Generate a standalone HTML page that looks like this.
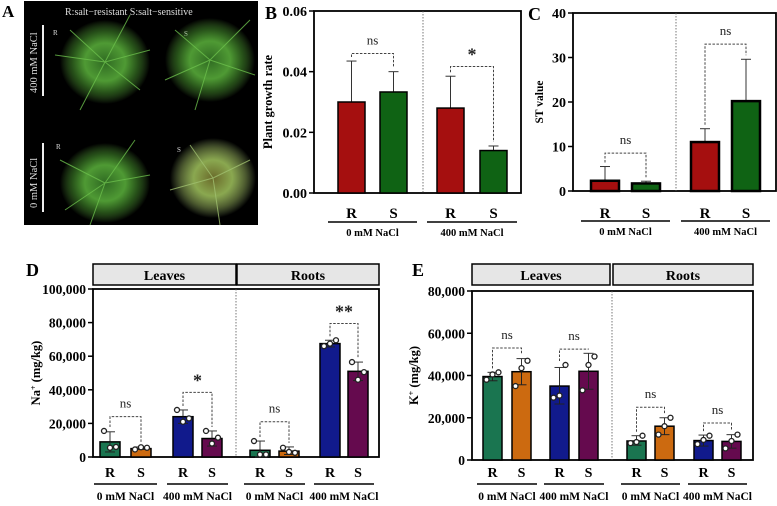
<!DOCTYPE html>
<html><head><meta charset="utf-8"><style>
html,body{margin:0;padding:0;background:#fff;}
svg{display:block;font-family:"Liberation Serif",serif;}
</style></head><body>
<svg id="fig" width="777" height="506" viewBox="0 0 777 506" xmlns="http://www.w3.org/2000/svg">
<defs>
<radialGradient id="plantG" cx="50%" cy="50%" r="50%"><stop offset="0" stop-color="#2f6a22"/><stop offset="0.45" stop-color="#4f9a34"/><stop offset="0.75" stop-color="#4a9a30" stop-opacity="0.5"/><stop offset="1" stop-color="#6cc04a" stop-opacity="0"/></radialGradient>
<radialGradient id="plantY" cx="50%" cy="50%" r="50%"><stop offset="0" stop-color="#6a6a2a"/><stop offset="0.45" stop-color="#8aa850"/><stop offset="0.75" stop-color="#9cb860" stop-opacity="0.5"/><stop offset="1" stop-color="#b0d080" stop-opacity="0"/></radialGradient>
</defs>
<g>
<text x="2" y="17" font-size="17" font-weight="bold">A</text>
<rect x="24" y="1" width="234" height="224" fill="#000"/>
<text x="65" y="15" font-size="10" fill="#ddd">R:salt−resistant   S:salt−sensitive</text>
<line x1="43" y1="25" x2="43" y2="96" stroke="#eee" stroke-width="2"/>
<line x1="43" y1="143" x2="43" y2="212" stroke="#eee" stroke-width="2"/>
<text transform="translate(37,93) rotate(-90)" font-size="10.5" fill="#ddd">400 mM NaCl</text>
<text transform="translate(37,208) rotate(-90)" font-size="10.5" fill="#ddd">0 mM NaCl</text>
<text x="53" y="35" font-size="7" fill="#ddd">R</text><text x="184" y="36" font-size="7" fill="#ddd">S</text>
<text x="56" y="149" font-size="7" fill="#ddd">R</text><text x="177" y="152" font-size="7" fill="#ddd">S</text>
<ellipse cx="105" cy="62" rx="45" ry="42" fill="url(#plantG)"/>
<ellipse cx="210" cy="60" rx="45" ry="42" fill="url(#plantG)"/>
<ellipse cx="105" cy="183" rx="45" ry="40" fill="url(#plantG)"/>
<ellipse cx="213" cy="178" rx="43" ry="40" fill="url(#plantY)"/>
<g stroke="#6cbf4c" stroke-width="1" opacity="0.8">
<path d="M105 62 L55 55 M105 62 L150 50 M105 62 L80 110 M105 62 L130 15 M105 62 L140 90 M105 62 L70 30"/>
<path d="M210 60 L165 80 M210 60 L250 20 M210 60 L255 75 M210 60 L195 110 M210 60 L175 30"/>
<path d="M105 183 L60 160 M105 183 L150 175 M105 183 L90 225 M105 183 L135 140 M105 183 L65 210"/>
<path d="M213 178 L170 190 M213 178 L250 160 M213 178 L220 225 M213 178 L190 145" stroke="#a0c070"/>
</g>
</g>
<g id="charts"></g>
</svg>
<script>
const bCategories = ["R","S","R","S"];
const bValues = [0.030, 0.0333, 0.028, 0.014];
const bErrors = [0.0435, 0.040, 0.0385, 0.0155];
const bTicks = [0, 0.02, 0.04, 0.06];
const bTickLabels = ["0.00","0.02","0.04","0.06"];

const cCategories = ["R","S","R","S"];
const cValues = [2.3, 1.7, 11, 20.2];
const cErrors = [5.5, 2.2, 14, 29.6];
const cTicks = [0, 10, 20, 30, 40];
const cTickLabels = ["0","10","20","30","40"];

const dCategories = ["R","S","R","S","R","S","R","S"];
const dValues = [9000, 5000, 24000, 11000, 4000, 3500, 67500, 51000];
const dErrors = [15000, 6000, 28000, 15500, 9500, 6000, 69500, 56500];
const dLows = [3000, 4500, 20000, 6500, 0, 1500, 65500, 45500];
const dPoints = [[15500,5500,6000],[4500,5800,5500],[28000,21000,23000],[15500,8000,11500],[9500,1500,1500],[5500,3000,2500],[66000,67500,69500],[56500,46000,50500]];
const dTicks = [0, 20000, 40000, 60000, 80000, 100000];
const dTickLabels = ["0","20,000","40,000","60,000","80,000","100,000"];

const eCategories = ["R","S","R","S","R","S","R","S"];
const eValues = [39500, 41800, 35000, 42000, 9000, 16000, 9200, 8800];
const eErrors = [41500, 48000, 43800, 50500, 11500, 20000, 11800, 12000];
const eLows = [37500, 35600, 26500, 33500, 7000, 12000, 6600, 5600];
const ePoints = [[38000,40500,41500],[35000,43500,47000],[29500,30500,45000],[33000,45000,49000],[8000,8500,11500],[12000,16000,20000],[7500,9500,11500],[5500,9000,12000]];
const eTicks = [0, 20000, 40000, 60000, 80000];
const eTickLabels = ["0","20,000","40,000","60,000","80,000"];

const NS="http://www.w3.org/2000/svg";
const root=document.getElementById('charts');
function mk(tag,attrs,parent,text){const e=document.createElementNS(NS,tag);for(const k in attrs)e.setAttribute(k,attrs[k]);if(text!==undefined)e.textContent=text;(parent||root).appendChild(e);return e;}

function drawChart(cfg){
  const g=mk('g',{});
  
  
  const y=v=>cfg.y0-(v/cfg.max)*(cfg.y0-cfg.top);
  const pl=mk('text',{x:cfg.letterX,y:cfg.letterY,'font-size':18,'font-weight':'bold'},g,cfg.letter);
  
  
  if(cfg.headers){cfg.headers.forEach(h=>{
    const r=mk('rect',{x:h.x1,y:h.y1,width:h.x2-h.x1,height:h.y2-h.y1,fill:'#e6e6e6',stroke:'#000','stroke-width':1.5},g);
    
    
    const t=mk('text',{x:(h.x1+h.x2)/2,y:h.y2-5,'font-size':14,'font-weight':'bold','text-anchor':'middle'},g,h.label);
    
    
  });}
  const b=mk('rect',{x:cfg.left,y:cfg.top,width:cfg.right-cfg.left,height:cfg.y0-cfg.top,fill:'none',stroke:'#000','stroke-width':1.8},g);
  
  
  mk('line',{x1:cfg.divX,y1:cfg.top,x2:cfg.divX,y2:cfg.y0,stroke:'#555','stroke-width':0.8,'stroke-dasharray':'1.5,1.5'},g);
  cfg.ticks.forEach((tv,i)=>{
    const ty=y(tv);
    mk('line',{x1:cfg.left-5,y1:ty,x2:cfg.left,y2:ty,stroke:'#000','stroke-width':1.5},g);
    const t=mk('text',{x:cfg.left-7,y:ty+5,'font-size':cfg.tickFont,'font-weight':'bold','text-anchor':'end'},g,cfg.tickLabels[i]);
    
    
  });
  const yt=mk('text',{transform:`translate(${cfg.ytX},${(cfg.top+cfg.y0)/2}) rotate(-90)`,'font-size':cfg.ytFont,'font-weight':'bold','text-anchor':'middle'},g);
  
  
  if(cfg.ytSup){yt.appendChild(document.createTextNode(cfg.ytitle));mk('tspan',{'baseline-shift':'super','font-size':8},yt,cfg.ytSup);yt.appendChild(document.createTextNode(cfg.ytRest));}
  else yt.textContent=cfg.ytitle;
  cfg.cats.forEach((c,i)=>{
    const x=cfg.barX[i], w=cfg.barW, v=cfg.vals[i], top=y(v);
    const cx=x+w/2;
    const ey=y(cfg.errs[i]);
    mk('line',{x1:cx,y1:ey,x2:cx,y2:top,stroke:'#333','stroke-width':1},g);
    mk('line',{x1:cx-5,y1:ey,x2:cx+5,y2:ey,stroke:'#333','stroke-width':1},g);
    const r=mk('rect',{x:x,y:top,width:w,height:cfg.y0-top,fill:cfg.colors[i],stroke:'#000','stroke-width':cfg.barStroke},g);
    
    
    if(cfg.lows){const ly=y(cfg.lows[i]);
      mk('line',{x1:cx,y1:top,x2:cx,y2:ly,stroke:'#222','stroke-width':1},g);
      mk('line',{x1:cx-5,y1:ly,x2:cx+5,y2:ly,stroke:'#222','stroke-width':1},g);}
    if(cfg.points){cfg.points[i].forEach((p,j)=>{
      const pc=mk('circle',{cx:cx+(j-1)*6,cy:y(p),r:2.5,fill:'#fff',stroke:'#222','stroke-width':1.3},g);
      
      
    });}
    const t=mk('text',{x:cx,y:cfg.catY,'font-size':cfg.catFont,'font-weight':'bold','text-anchor':'middle'},g,c);
    
    
  });
  for(let k=0;k<cfg.cats.length;k+=2){
    const x1=cfg.barX[k]-cfg.grpPad, x2=cfg.barX[k+1]+cfg.barW+cfg.grpPad;
    mk('line',{x1:x1,y1:cfg.lineY,x2:x2,y2:cfg.lineY,stroke:'#000','stroke-width':1.6},g);
    const t=mk('text',{x:(x1+x2)/2,y:cfg.grpY,'font-size':cfg.grpFont,'font-weight':'bold','text-anchor':'middle'},g,(k/2)%2===0?'0 mM NaCl':'400 mM NaCl');
    
    
    const sig=cfg.sig[k/2];
    const ax=cfg.barX[k]+cfg.barW/2, bx=cfg.barX[k+1]+cfg.barW/2;
    const by=y(sig.at);
    const aTop=y(Math.max(cfg.errs[k],cfg.points?Math.max(...cfg.points[k]):0))-4;
    const bTop=y(Math.max(cfg.errs[k+1],cfg.points?Math.max(...cfg.points[k+1]):0))-4;
    mk('path',{d:`M${ax} ${aTop} L${ax} ${by} L${bx} ${by} L${bx} ${bTop}`,fill:'none',stroke:'#444','stroke-width':1,'stroke-dasharray':'2.5,1.5'},g);
    const st=mk('text',{x:(ax+bx)/2,y:by-(sig.t==='ns'?9:6),'font-size':sig.t==='ns'?13:18,'font-weight':sig.t==='ns'?'normal':'bold','text-anchor':'middle',fill:'#222'},g,sig.t);
    
    
  }
}

const red='#a50f0f', grn='#0f6314';
drawChart({name:'panel-b-growth-rate',letter:'B',letterX:265,letterY:19,left:314,right:521,top:11,y0:193,max:0.06,
  ticks:bTicks,tickLabels:bTickLabels,tickFont:14,ytX:272,ytFont:12.5,ytitle:'Plant growth rate',
  divX:423,cats:bCategories,vals:bValues,errs:bErrors,barX:[338,380,437,480],barW:27,
  colors:[red,grn,red,grn],barStroke:1.5,catY:218,catFont:15,lineY:222,grpY:236,grpFont:10.5,grpPad:10,
  sig:[{at:0.046,t:'ns'},{at:0.0417,t:'*'}]});
drawChart({name:'panel-c-st-value',letter:'C',letterX:528,letterY:20,left:573,right:776,top:13,y0:191,max:40,
  ticks:cTicks,tickLabels:cTickLabels,tickFont:14,ytX:543,ytFont:11.5,ytitle:'ST value',
  divX:676,cats:cCategories,vals:cValues,errs:cErrors,barX:[591,632,691,732],barW:28,
  colors:[red,grn,red,grn],barStroke:2.5,catY:218,catFont:15,lineY:221,grpY:235,grpFont:10.5,grpPad:10,
  sig:[{at:8.5,t:'ns'},{at:33,t:'ns'}]});
const gC='#1a7550', oC='#cc6a10', nC='#111a8c', pC='#650a4e';
drawChart({name:'panel-d-sodium',letter:'D',letterX:26,letterY:276,left:93,right:379,top:289,y0:457,max:100000,
  headers:[{x1:93,y1:264,x2:236,y2:285,label:'Leaves'},{x1:237,y1:264,x2:379,y2:285,label:'Roots'}],
  ticks:dTicks,tickLabels:dTickLabels,tickFont:13.5,ytX:40,ytFont:12.5,ytitle:'Na',ytSup:'+',ytRest:' (mg/kg)',
  divX:236,cats:dCategories,vals:dValues,errs:dErrors,lows:dLows,points:dPoints,
  barX:[100,131,173,202,250,279,320,348],barW:20,colors:[gC,oC,nC,pC,gC,oC,nC,pC],barStroke:1.5,
  catY:477,catFont:14,lineY:484,grpY:500,grpFont:11.5,grpPad:6,
  sig:[{at:24000,t:'ns'},{at:38500,t:'*'},{at:21000,t:'ns'},{at:79500,t:'**'}]});
drawChart({name:'panel-e-potassium',letter:'E',letterX:412,letterY:276,left:472,right:753,top:291,y0:460,max:80000,
  headers:[{x1:472,y1:264,x2:610,y2:285,label:'Leaves'},{x1:613,y1:264,x2:753,y2:285,label:'Roots'}],
  ticks:eTicks,tickLabels:eTickLabels,tickFont:13.5,ytX:418,ytFont:12.5,ytitle:'K',ytSup:'+',ytRest:' (mg/kg)',
  divX:612,cats:eCategories,vals:eValues,errs:eErrors,lows:eLows,points:ePoints,
  barX:[483,512,550,579,627,655,694,722],barW:19,colors:[gC,oC,nC,pC,gC,oC,nC,pC],barStroke:1.5,
  catY:477,catFont:14,lineY:484,grpY:500,grpFont:11.5,grpPad:6,
  sig:[{at:53000,t:'ns'},{at:52500,t:'ns'},{at:25000,t:'ns'},{at:17500,t:'ns'}]});
</script>
</body></html>
